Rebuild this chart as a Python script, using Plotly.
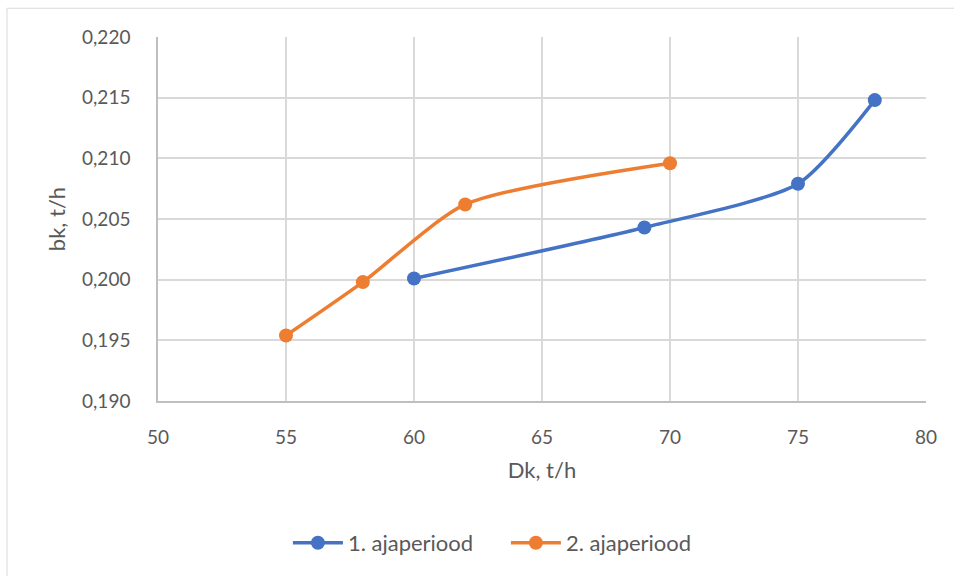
import plotly.graph_objects as go

# Series data
dk_period1 = [60, 69, 75, 78]
bk_period1 = [0.2001, 0.2043, 0.2079, 0.2148]

dk_period2 = [55, 58, 62, 70]
bk_period2 = [0.1954, 0.1998, 0.2062, 0.2096]

series_names = ["1. ajaperiood", "2. ajaperiood"]
x_ticks = [50, 55, 60, 65, 70, 75, 80]
y_ticks = [0.190, 0.195, 0.200, 0.205, 0.210, 0.215, 0.220]

BLUE = "#4472C4"
ORANGE = "#ED7D31"
TEXT = "#595959"
GRID = "#D9D9D9"
FONT = "Lato, 'Open Sans', sans-serif"

fig = go.Figure()
for xs, ys, name, color in [
    (dk_period1, bk_period1, series_names[0], BLUE),
    (dk_period2, bk_period2, series_names[1], ORANGE),
]:
    fig.add_trace(go.Scatter(
        x=xs, y=ys, name=name, mode="lines+markers",
        line=dict(color=color, width=3.5, shape="spline", smoothing=0.65),
        marker=dict(color=color, size=14),
    ))

fig.update_layout(
    width=954, height=576,
    margin=dict(l=158, r=28, t=37, b=172),
    paper_bgcolor="white", plot_bgcolor="white",
    separators=", ",
    font=dict(family=FONT, size=19, color=TEXT),
    showlegend=True,
    legend=dict(
        orientation="h", x=0.453, xanchor="center", y=-0.39, yanchor="middle",
        font=dict(family=FONT, size=22, color=TEXT),
        itemwidth=50, entrywidth=153, tracegroupgap=0,
    ),
    xaxis=dict(
        range=[50, 80], tickvals=x_ticks, showgrid=True, gridcolor=GRID,
        gridwidth=1.5, zeroline=False, showline=True, linecolor="#BFBFBF",
        linewidth=1.5, mirror=False, ticks="", ticklabelstandoff=18,
        tickfont=dict(size=19, color=TEXT),
        title=dict(text="Dk, t/h", font=dict(size=22, color=TEXT), standoff=16),
    ),
    yaxis=dict(
        range=[0.190, 0.220], tickvals=y_ticks, tickformat=".3f",
        showgrid=True, gridcolor=GRID, gridwidth=1.5, zeroline=False,
        showline=True, linecolor="#BFBFBF", linewidth=1.5, ticks="",
        ticklabelstandoff=22, tickfont=dict(size=19, color=TEXT),
        title=dict(text="bk, t/h", font=dict(size=22, color=TEXT), standoff=10),
    ),
)

# Chart-area frame
fig.add_shape(
    type="rect", xref="paper", yref="paper",
    x0=(7 - 158) / 768, x1=(960 - 158) / 768,
    y0=(404 - 590) / 367, y1=1 + (37 - 8) / 367,
    line=dict(color="#D9D9D9", width=1), fillcolor="rgba(0,0,0,0)",
    layer="below",
)

fig.write_html("out.html")
